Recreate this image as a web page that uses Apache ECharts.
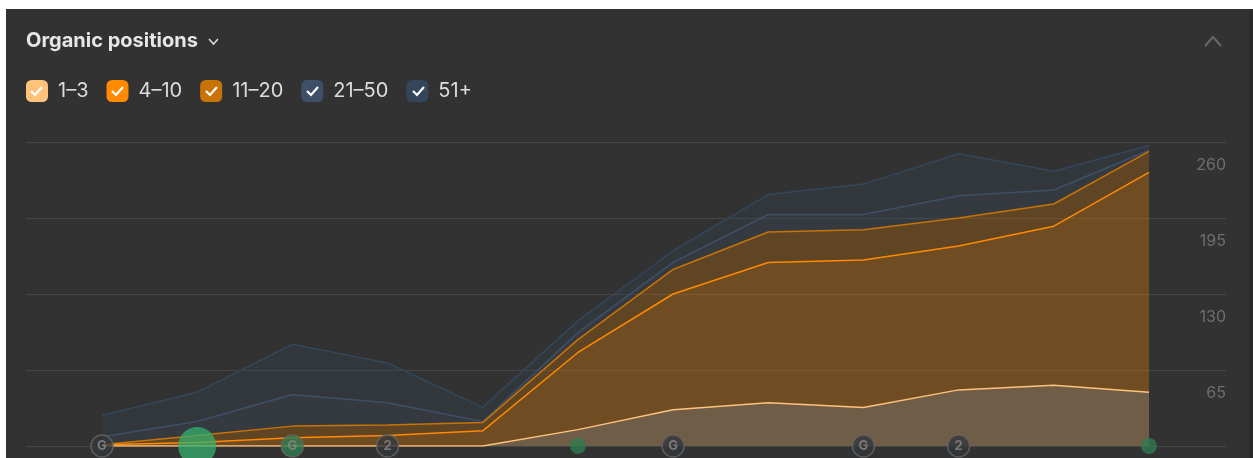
<!DOCTYPE html>
<html>
<head>
<meta charset="utf-8">
<title>Organic positions</title>
<style>
html, body { margin: 0; padding: 0; background: #fff; overflow: hidden; }
#panel { position: absolute; left: 6px; top: 9px; width: 1243px; height: 449px; background: #323232; }
#strip { position: absolute; left: 1249px; top: 9px; width: 4px; height: 449px; background: #2a2a2a; }
#chart { position: absolute; left: 0; top: 0; width: 1253px; height: 458px; }
</style>
<script src="https://cdn.jsdelivr.net/npm/echarts@6/dist/echarts.min.js"></script>
</head>
<body>
<div id="panel"></div>
<div id="strip"></div>
<div id="chart"></div>
<script>
var titleText = 'Organic positions';
var names = ['1–3', '4–10', '11–20', '21–50', '51+'];
var colors = ['#ffc27a', '#ff8a00', '#c97307', '#3e5068', '#34465a'];
var fills = ['rgba(255,194,122,0.3)', 'rgba(255,138,0,0.3)', 'rgba(201,115,7,0.3)', 'rgba(62,80,104,0.3)', 'rgba(52,70,90,0.25)'];

// the picture shows no dates, so the periods are just numbered
var periods = ['1', '2', '3', '4', '5', '6', '7', '8', '9', '10', '11', '12'];

// one number per period, stacked from the bottom band up
var pos1to3 = [0, 0, 0, 0, 0, 14, 31, 37, 33, 48, 52, 46];
var pos4to10 = [1, 3, 7, 9, 13, 66, 99, 120, 126, 123, 136, 188];
var pos11to20 = [0, 6, 10, 9, 7, 11, 21, 26, 26, 24, 19, 18];
var pos21to50 = [7, 12, 27, 19, 1, 6, 6, 15, 13, 19, 12, 1];
var pos51plus = [18, 25, 43, 34, 12, 10, 10, 17, 26, 36, 16, 4];
var bands = [pos1to3, pos4to10, pos11to20, pos21to50, pos51plus];

var yTicks = [0, 65, 130, 195, 260];

// events along the bottom of the chart
var googleMarks = [0, 6, 8];
var numberMarks = [3, 9];
var greenGoogleMarks = [2];
var greenDots = [5, 11];
var bigDot = [1];

function onBase(indexes) {
	var out = [];
	for (var i = 0; i < indexes.length; i++) {
		out.push([indexes[i], 0]);
	}
	return out;
}

function markSeries(indexes, size, fill, border, text, z) {
	return {
		type: 'scatter',
		xAxisIndex: 1,
		yAxisIndex: 1,
		data: onBase(indexes),
		symbolSize: size,
		clip: false,
		silent: true,
		z: z,
		itemStyle: { color: fill, borderColor: border, borderWidth: border ? 1.5 : 0 },
		label: {
			show: !!text,
			position: 'inside',
			formatter: text,
			color: '#8a8a8a',
			fontFamily: 'Inter',
			fontWeight: 'bold',
			fontSize: 13
		}
	};
}

var series = [];
for (var b = 0; b < bands.length; b++) {
	series.push({
		name: names[b],
		type: 'line',
		xAxisIndex: 1,
		yAxisIndex: 1,
		stack: 'positions',
		data: bands[b],
		showSymbol: false,
		silent: true,
		z: 10 - b,
		color: colors[b],
		lineStyle: { color: colors[b], width: 1.5 },
		areaStyle: { color: fills[b], opacity: 1 }
	});
}
series.push(markSeries(googleMarks, 22, '#33373b', '#666666', 'G', 20));
series.push(markSeries(numberMarks, 22, '#33373b', '#666666', '2', 20));
series.push(markSeries(greenGoogleMarks, 22, '#2e7d50', '#666666', 'G', 20));
series.push(markSeries(greenDots, 16, 'rgba(46,125,80,0.95)', null, '', 20));
series.push(markSeries(bigDot, 38, 'rgba(52,178,110,0.92)', null, '', 21));

// check marks and chevrons are not part of the legend component
var checkX = [36.5, 117.5, 211.5, 312.5, 418.5];
var graphics = [];
for (var c = 0; c < checkX.length; c++) {
	graphics.push({
		type: 'polyline',
		z: 100,
		shape: { points: [[checkX[c] - 5.5, 91], [checkX[c] - 1.5, 95], [checkX[c] + 5.5, 87]] },
		style: { fill: null, stroke: '#fff', lineWidth: 2.2 }
	});
}
graphics.push({
	type: 'polyline',
	shape: { points: [[209, 39], [213.5, 44], [218, 39]] },
	style: { fill: null, stroke: '#d8d8d8', lineWidth: 1.6 }
});
graphics.push({
	type: 'polyline',
	shape: { points: [[1205, 46], [1213, 37], [1221, 46]] },
	style: { fill: null, stroke: '#666666', lineWidth: 2.2 }
});

var legendData = [];
for (var n = 0; n < names.length; n++) {
	legendData.push({ name: names[n], icon: 'roundRect', itemStyle: { color: colors[n], borderWidth: 0 } });
}

var myChart = echarts.init(document.getElementById('chart'));
myChart.setOption({
	backgroundColor: 'transparent',
	animation: false,
	title: {
		text: titleText,
		left: 26,
		top: 31,
		padding: 0,
		textStyle: { color: '#e6e6e6', fontFamily: 'Inter', fontWeight: 700, fontSize: 20 }
	},
	legend: {
		data: legendData,
		left: 26,
		top: 80,
		padding: 0,
		itemWidth: 22,
		itemHeight: 22,
		itemGap: 18,
		selectedMode: false,
		textStyle: { color: '#dcdcdc', fontFamily: 'Inter', fontSize: 20, padding: [0, 0, 0, 5] }
	},
	// first grid carries the long gridlines and tick labels, second one the data
	grid: [
		{ left: 26, right: 27, top: 142, bottom: 12 },
		{ left: 102, right: 104, top: 142, bottom: 12 }
	],
	xAxis: [
		{ type: 'category', gridIndex: 0, show: false, data: periods },
		{ type: 'category', gridIndex: 1, show: false, boundaryGap: false, data: periods }
	],
	yAxis: [{
		type: 'value',
		gridIndex: 0,
		position: 'right',
		min: yTicks[0],
		max: yTicks[yTicks.length - 1],
		interval: yTicks[1],
		axisLine: { show: false },
		axisTick: { show: false },
		splitLine: { show: true, lineStyle: { color: '#464646', width: 1 } },
		axisLabel: {
			inside: true,
			margin: 0,
			align: 'right',
			verticalAlign: 'top',
			padding: [15, 0, 0, 0],
			color: '#6e6e6e',
			fontFamily: 'Inter',
			fontSize: 16,
			formatter: function (v) { return v === 0 ? '' : String(v); }
		}
	}, {
		type: 'value',
		gridIndex: 1,
		show: false,
		min: yTicks[0],
		max: yTicks[yTicks.length - 1],
		interval: yTicks[1],
		splitLine: { show: false }
	}],
	series: series,
	graphic: graphics
});
</script>
</body>
</html>
